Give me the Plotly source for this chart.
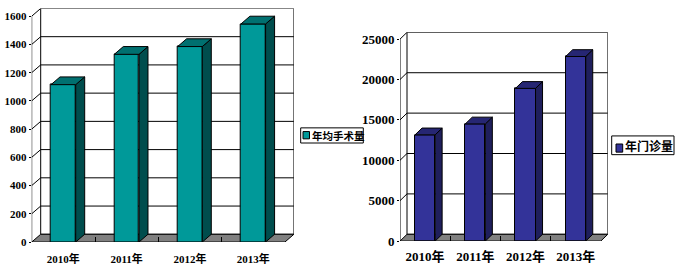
import plotly.graph_objects as go

# ---------------- data ----------------
years = ["2010年", "2011年", "2012年", "2013年"]
surgery = [1115, 1330, 1385, 1545]          # 年均手术量
outpatient = [13150, 14500, 18900, 22850]   # 年门诊量
surgery_ticks = [0, 200, 400, 600, 800, 1000, 1200, 1400, 1600]
outpatient_ticks = [0, 5000, 10000, 15000, 20000, 25000]

W, H = 681, 275
FONT = "Liberation Serif, Noto Sans CJK SC"
CJK = "Noto Sans CJK SC, Liberation Sans"

fig = go.Figure()
shapes = []
annotations = []


def px_x(p):
    return p / W


def px_y(p):
    return (H - p) / H


def panel(idx, values, ticks, ymax, left_px, cat_px, dx_px, y0_px, ytop_px, dy_px,
          bar_w, c_front, c_side, c_top, ytickfont, xtickfont, xstandoff, name,
          leg_box, leg_sq, leg_font):
    xa = "x" if idx == 1 else f"x{idx}"
    ya = "y" if idx == 1 else f"y{idx}"
    xk = "xaxis" if idx == 1 else f"xaxis{idx}"
    yk = "yaxis" if idx == 1 else f"yaxis{idx}"
    n = len(values)
    DX = dx_px / cat_px                      # depth in category units
    scale = (y0_px - ytop_px) / ymax         # px per value unit
    DY = dy_px / scale                       # depth in value units
    xs = list(range(n))

    # front faces
    fig.add_trace(go.Bar(x=xs, y=values, width=bar_w, xaxis=xa, yaxis=ya,
                         marker=dict(color=c_front, line=dict(color="black", width=1)),
                         showlegend=False, name=name))
    # side and top faces
    sx, sy, tx, ty = [], [], [], []
    for c, v in zip(xs, values):
        r = c + bar_w / 2
        l = c - bar_w / 2
        sx += [r, r + DX, r + DX, r, r, None]
        sy += [0, DY, v + DY, v, 0, None]
        tx += [l, r, r + DX, l + DX, l, None]
        ty += [v, v, v + DY, v + DY, v, None]
    fig.add_trace(go.Scatter(x=sx, y=sy, xaxis=xa, yaxis=ya, mode="lines", fill="toself",
                             fillcolor=c_side, line=dict(color="black", width=1),
                             showlegend=False, hoverinfo="skip"))
    fig.add_trace(go.Scatter(x=tx, y=ty, xaxis=xa, yaxis=ya, mode="lines", fill="toself",
                             fillcolor=c_top, line=dict(color="black", width=1),
                             showlegend=False, hoverinfo="skip"))

    xl, xr = -0.5, n - 0.5
    top = ticks[-1]
    blk = dict(color="black", width=1)
    # back wall
    shapes.append(dict(type="rect", xref=xa, yref=ya, x0=xl + DX, x1=xr + DX, y0=DY, y1=top + DY,
                       line=blk, fillcolor="white", layer="below"))
    # grid lines on back wall and side wall
    for t in ticks:
        if 0 < t < top:
            shapes.append(dict(type="line", xref=xa, yref=ya, x0=xl + DX, x1=xr + DX,
                               y0=t + DY, y1=t + DY, line=blk, layer="below"))
        if t > 0:
            shapes.append(dict(type="line", xref=xa, yref=ya, x0=xl, x1=xl + DX,
                               y0=t, y1=t + DY, line=blk, layer="below"))
    # front axis line
    shapes.append(dict(type="line", xref=xa, yref=ya, x0=xl, x1=xl, y0=0, y1=top,
                       line=blk, layer="below"))
    # floor
    shapes.append(dict(type="path", xref=xa, yref=ya,
                       path=f"M {xl},0 L {xr},0 L {xr + DX},{DY} L {xl + DX},{DY} Z",
                       fillcolor="#808080", line=blk, layer="below"))

    fig.layout[xk] = dict(
        domain=[px_x(left_px), px_x(left_px + n * cat_px + dx_px)],
        range=[xl, xr + DX], anchor=ya, showgrid=False, zeroline=False, showline=False,
        tickvals=xs, ticktext=years, ticks="", tickfont=xtickfont, ticklabelstandoff=xstandoff,
        minor=dict(tickvals=[c + 0.5 for c in xs[:-1]], ticks="inside", ticklen=5,
                   tickcolor="black", showgrid=False),
        fixedrange=True)
    fig.layout[yk] = dict(
        domain=[px_y(y0_px), px_y(ytop_px - dy_px)],
        range=[0, top + DY], anchor=xa, showgrid=False, zeroline=False, showline=False,
        tickvals=ticks, ticktext=[str(t) for t in ticks],
        ticks="outside", ticklen=2, tickcolor="black", tickfont=ytickfont,
        fixedrange=True)

    # legend box
    bx0, by0, bx1, by1 = leg_box
    shapes.append(dict(type="rect", xref="paper", yref="paper", x0=px_x(bx0), x1=px_x(bx1),
                       y0=px_y(by1), y1=px_y(by0), line=blk, fillcolor="white", layer="below"))
    qx0, qy0, qx1, qy1 = leg_sq
    shapes.append(dict(type="rect", xref="paper", yref="paper", x0=px_x(qx0), x1=px_x(qx1),
                       y0=px_y(qy1), y1=px_y(qy0), line=blk, fillcolor=c_front, layer="above"))
    annotations.append(dict(xref="paper", yref="paper", x=px_x(qx1 + 0.5), y=px_y((by0 + by1) / 2),
                            xanchor="left", yanchor="middle", showarrow=False, text=name,
                            font=leg_font))


panel(1, surgery, surgery_ticks, 1600, 31.7, 63.3, 9, 249.3, 16.7, 8, 0.39,
      "#009999", "#004d4d", "#007070",
      dict(family=FONT, size=11, color="black", weight="bold"),
      dict(family=FONT, size=11, color="black", weight="bold"), 9, "年均手术量",
      (300.7, 131.7, 363.3, 147.3), (303, 135.5, 309.5, 143),
      dict(family=CJK, size=10.5, color="black", weight="bold"))

panel(2, outpatient, outpatient_ticks, 25000, 400, 50.2, 7, 248.3, 40.3, 7, 0.4,
      "#333399", "#1f1f5c", "#262673",
      dict(family=FONT, size=13, color="black", weight="bold"),
      dict(family=FONT, size=13, color="black", weight="bold"), 6, "年门诊量",
      (611.7, 140, 674, 159.3), (616, 148.3, 622.7, 156.7),
      dict(family=CJK, size=12, color="black", weight="bold"))

fig.update_layout(width=W, height=H, margin=dict(l=0, r=0, t=0, b=0),
                  paper_bgcolor="white", plot_bgcolor="rgba(0,0,0,0)",
                  shapes=shapes, annotations=annotations, showlegend=False, bargap=0)

fig.write_html("out.html")
